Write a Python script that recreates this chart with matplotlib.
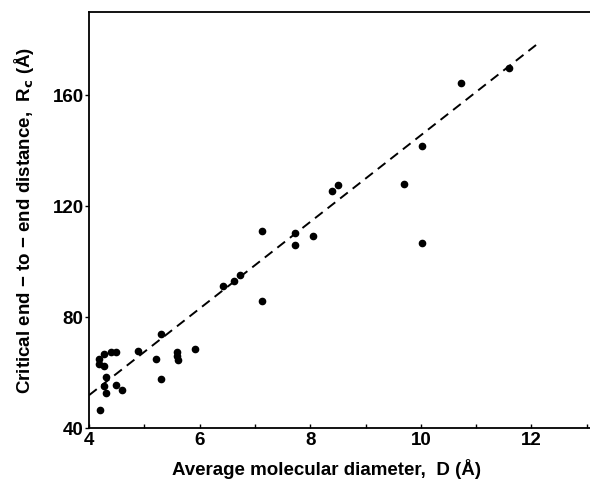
import matplotlib
matplotlib.use("Agg")
import matplotlib.pyplot as plt
from matplotlib.ticker import MultipleLocator

plt.rcParams["font.family"] = ["Liberation Sans", "DejaVu Sans"]
plt.rcParams["font.weight"] = "bold"

# average molecular diameter D (Å) and critical end-to-end distance Rc (Å)
diameter = [4.18, 4.18, 4.27, 4.27, 4.39, 4.49, 4.30, 4.27, 4.30, 4.20,
            4.48, 4.60, 4.89, 5.21, 5.30, 5.30, 5.59, 5.59, 5.60, 5.92,
            6.42, 6.62, 6.73, 7.13, 7.13, 7.72, 7.73, 8.05, 8.40, 8.50,
            9.70, 10.02, 10.02, 10.72, 11.60]
rc = [65.1, 63.0, 66.6, 62.5, 67.5, 67.5, 58.5, 55.1, 52.5, 46.5,
      55.7, 53.9, 67.7, 64.9, 73.8, 57.9, 67.5, 66.1, 64.5, 68.6,
      91.2, 93.1, 95.1, 111.0, 85.9, 110.4, 106.2, 109.4, 125.5, 127.8,
      128.2, 141.6, 106.9, 164.4, 170.0]

# fitted line endpoints
fit_d = [4.0, 12.1]
fit_rc = [51.9, 178.4]

fig = plt.figure(figsize=(5.9, 4.86), dpi=100)
ax = fig.add_axes([0.151, 0.119, 0.849, 0.856])

ax.plot(diameter, rc, "o", color="black", markersize=4.5)
line, = ax.plot(fit_d, fit_rc, color="black", linewidth=1.4)
line.set_dashes((5, 3.2))

ax.set_xlim(4, 13.06)
ax.set_ylim(40, 190)
ax.xaxis.set_major_locator(MultipleLocator(2))
ax.xaxis.set_minor_locator(MultipleLocator(1))
ax.set_yticks([40, 80, 120, 160])
ax.tick_params(axis="x", which="both", direction="in", length=3, width=1,
               labelsize=13.5, pad=3)
ax.tick_params(axis="y", which="both", direction="out", length=3, width=1,
               labelsize=13.5, pad=1)
for label in ax.get_xticklabels() + ax.get_yticklabels():
    label.set_fontweight("bold")

ax.spines["right"].set_visible(False)
for side in ["left", "bottom", "top"]:
    ax.spines[side].set_linewidth(1.3)

ax.set_xlabel("Average molecular diameter,  D (Å)", fontsize=13.5,
              fontweight="bold", labelpad=5)
ax.xaxis.set_label_coords(0.473, -0.075, transform=ax.transAxes)
ax.xaxis.label.set_verticalalignment("top")
ax.set_ylabel("Critical end \u2212 to \u2212 end distance,  R$_\\mathbf{c}$ (Å)",
              fontsize=13.5, fontweight="bold", labelpad=12)

fig.savefig("out.png", dpi=100)
